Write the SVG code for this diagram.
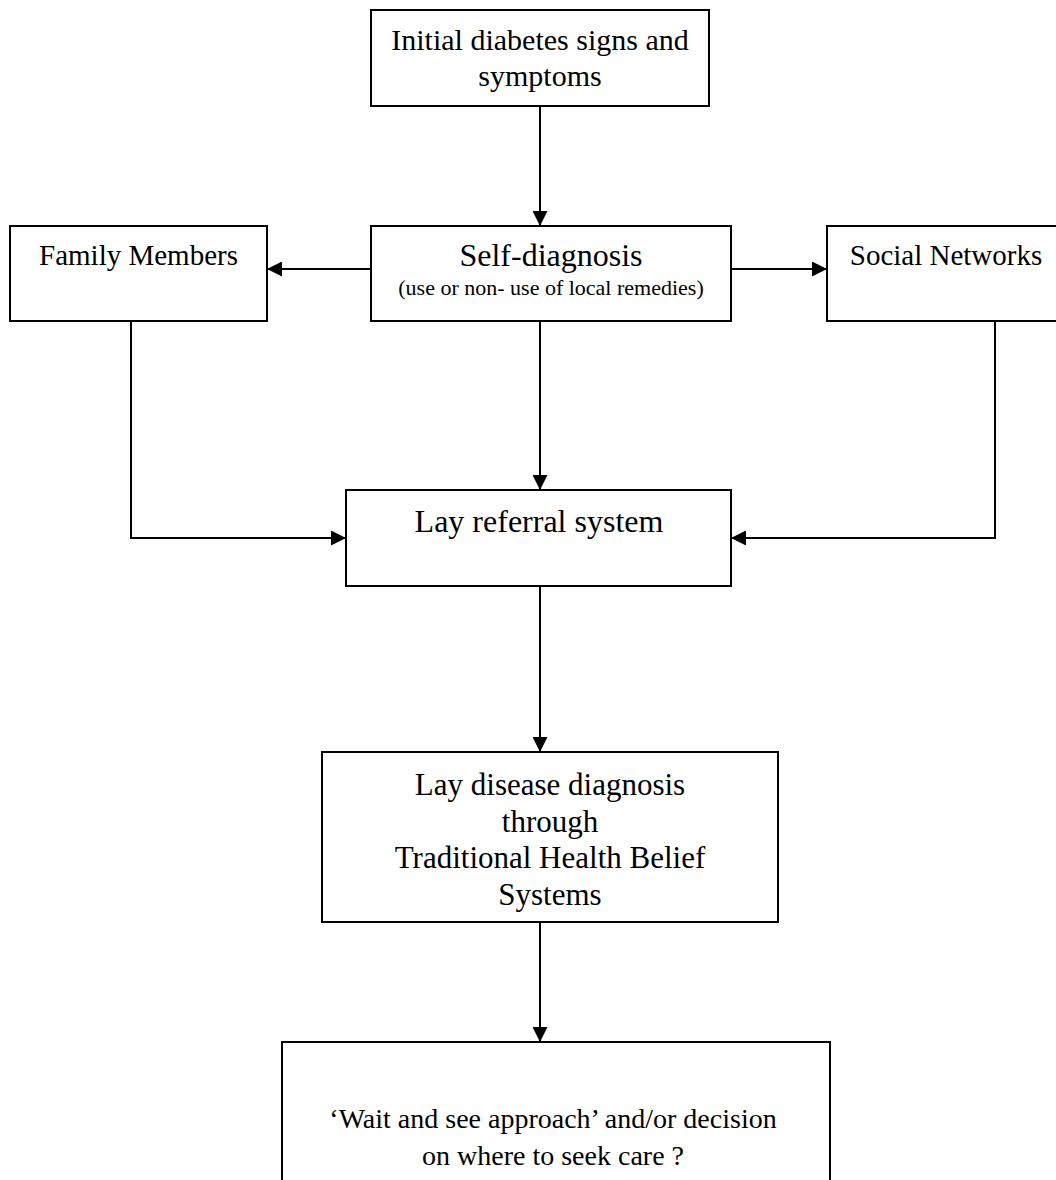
<svg xmlns="http://www.w3.org/2000/svg" width="1056" height="1180" viewBox="0 0 1056 1180">
<style>
.box{fill:#fff;stroke:#000;stroke-width:2}
.t{font-family:"Liberation Serif","Times New Roman",serif;fill:#000;text-anchor:middle}
.c{fill:none;stroke:#000;stroke-width:2}
</style>
<defs>
<marker id="ah" markerUnits="userSpaceOnUse" markerWidth="15" markerHeight="15" refX="15" refY="7.5" orient="auto">
<path d="M0,0 L15,7.5 L0,15 z" fill="#000"/>
</marker>
</defs>
<rect width="1056" height="1180" fill="#fff"/>
<g id="connectors">
<line class="c" x1="540" y1="106" x2="540" y2="226" marker-end="url(#ah)"/>
<line class="c" x1="371" y1="269" x2="267" y2="269" marker-end="url(#ah)"/>
<line class="c" x1="731" y1="269" x2="827" y2="269" marker-end="url(#ah)"/>
<line class="c" x1="540" y1="321" x2="540" y2="490" marker-end="url(#ah)"/>
<polyline class="c" points="131,321 131,538 346,538" marker-end="url(#ah)"/>
<polyline class="c" points="995,321 995,538 731,538" marker-end="url(#ah)"/>
<line class="c" x1="540" y1="586" x2="540" y2="752" marker-end="url(#ah)"/>
<line class="c" x1="540" y1="922" x2="540" y2="1042" marker-end="url(#ah)"/>
</g>
<g id="n-initial">
<rect class="box" x="371" y="10" width="338" height="96"/>
<text class="t" x="540" y="50" font-size="30">Initial diabetes signs and</text>
<text class="t" x="540" y="86" font-size="30">symptoms</text>
</g>
<g id="n-family">
<rect class="box" x="10" y="226" width="257" height="95"/>
<text class="t" x="138.5" y="265" font-size="29">Family Members</text>
</g>
<g id="n-self">
<rect class="box" x="371" y="226" width="360" height="95"/>
<text class="t" x="551" y="266" font-size="32">Self-diagnosis</text>
<text class="t" x="551" y="295" font-size="22">(use or non- use of local  remedies)</text>
</g>
<g id="n-social">
<rect class="box" x="827" y="226" width="240" height="95"/>
<text class="t" x="946" y="265" font-size="29">Social Networks</text>
</g>
<g id="n-layref">
<rect class="box" x="346" y="490" width="385" height="96"/>
<text class="t" x="539" y="532" font-size="32">Lay referral system</text>
</g>
<g id="n-laydis">
<rect class="box" x="322" y="752" width="456" height="170"/>
<text class="t" x="550" y="795" font-size="31">Lay disease diagnosis</text>
<text class="t" x="550" y="832" font-size="31">through</text>
<text class="t" x="550" y="868" font-size="31">Traditional Health Belief</text>
<text class="t" x="550" y="905" font-size="31">Systems</text>
</g>
<g id="n-wait">
<rect class="box" x="282" y="1042" width="548" height="160"/>
<text class="t" x="553" y="1128" font-size="28">‘Wait and see approach’ and/or decision</text>
<text class="t" x="553" y="1165" font-size="28">on where to seek care ?</text>
</g>
</svg>
